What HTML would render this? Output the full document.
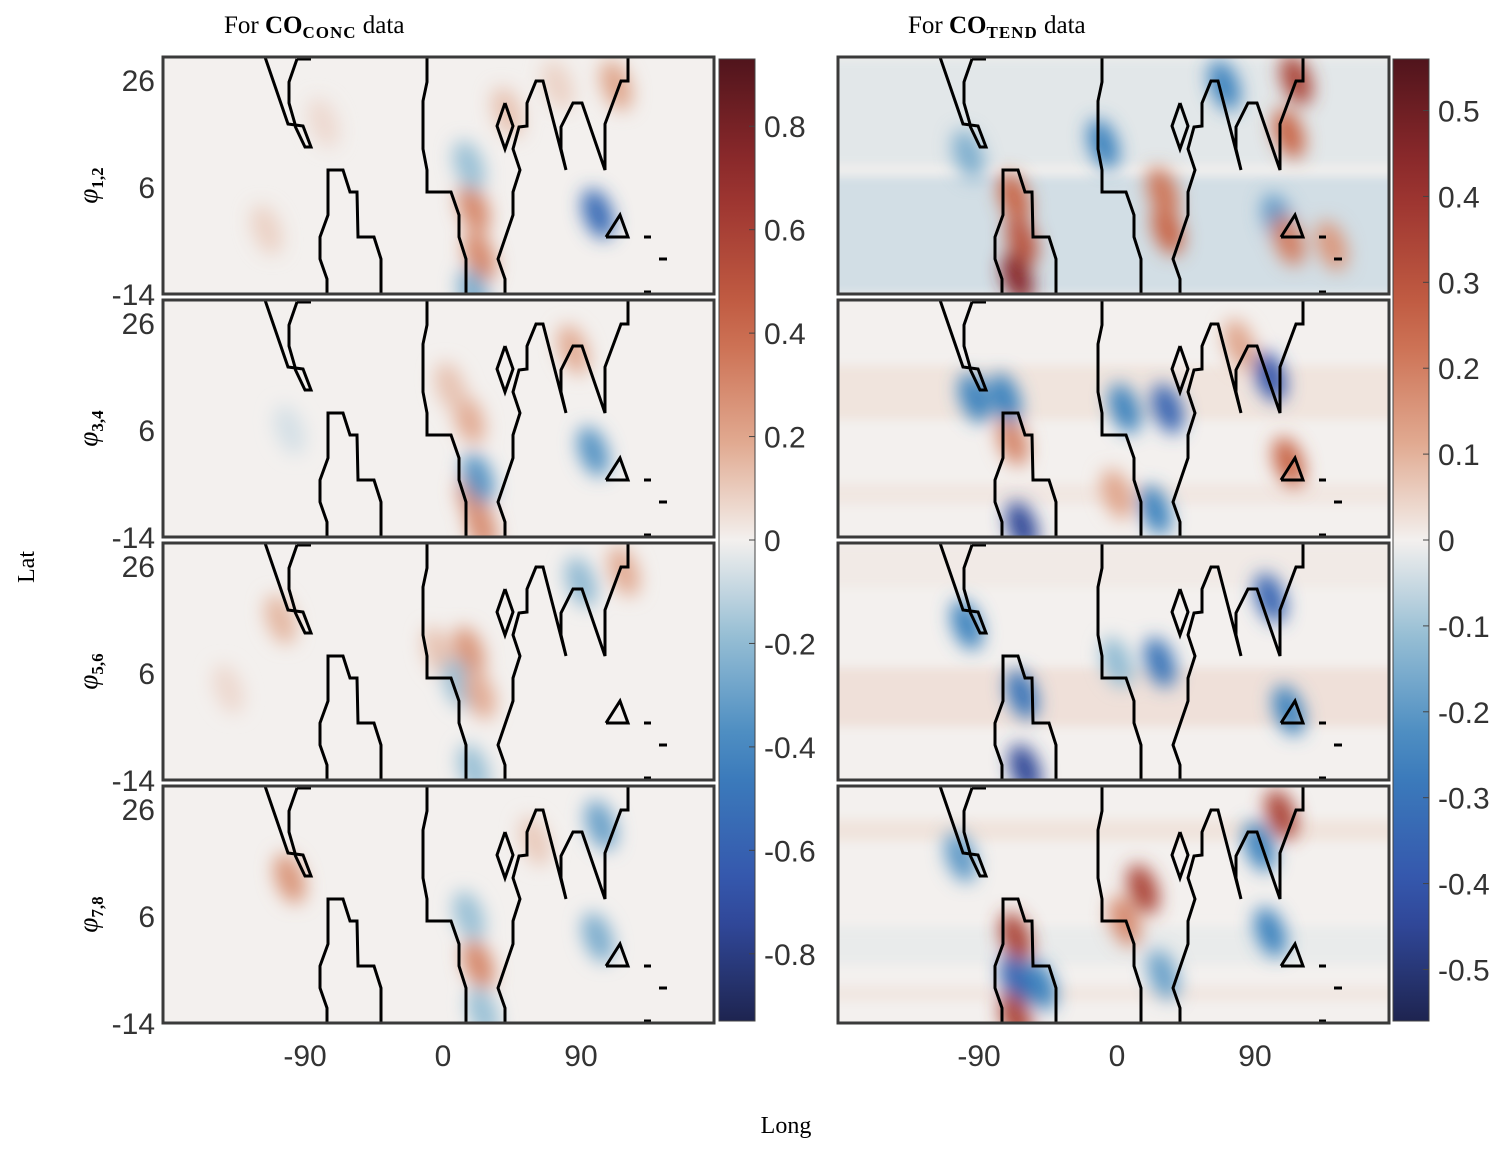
<!DOCTYPE html>
<html><head><meta charset="utf-8">
<style>
html,body{margin:0;padding:0;background:#fff;}
svg{display:block;}
.tk{font-family:"Liberation Sans",sans-serif;font-size:30px;fill:#333;}
.ser{font-family:"Liberation Serif",serif;fill:#000;}
</style></head>
<body>
<svg id="fig" width="1510" height="1154" viewBox="0 0 1510 1154" xmlns="http://www.w3.org/2000/svg">
<defs>
<filter id="blur" x="-60%" y="-60%" width="220%" height="220%"><feGaussianBlur stdDeviation="9"/></filter>
<filter id="blurBand" x="-5%" y="-50%" width="110%" height="200%"><feGaussianBlur stdDeviation="5"/></filter>
<linearGradient id="gradL" x1="0" y1="1" x2="0" y2="0"></linearGradient>
<linearGradient id="gradR" x1="0" y1="1" x2="0" y2="0"></linearGradient>
</defs>
<text class="ser" x="224" y="33" font-size="25">For <tspan font-weight="bold">CO</tspan><tspan font-weight="bold" font-size="17" dy="5" letter-spacing="1">CONC</tspan><tspan dy="-5"> data</tspan></text>
<text class="ser" x="908" y="33" font-size="25">For <tspan font-weight="bold">CO</tspan><tspan font-weight="bold" font-size="17" dy="5" letter-spacing="1">TEND</tspan><tspan dy="-5"> data</tspan></text>
<text class="ser" x="0" y="0" font-size="24" transform="translate(34,567) rotate(-90)" text-anchor="middle">Lat</text>
<text class="ser" x="786" y="1133" font-size="24" text-anchor="middle">Long</text>
<g id="panels"></g>
</svg>
<script>
// ---- data ----
const panelLabels = ["1,2","3,4","5,6","7,8"];
const latTicks = [26, 6, -14];
const lonTicks = [-90, 0, 90];
const cbTicksL = [0.8, 0.6, 0.4, 0.2, 0, -0.2, -0.4, -0.6, -0.8];
const cbTicksR = [0.5, 0.4, 0.3, 0.2, 0.1, 0, -0.1, -0.2, -0.3, -0.4, -0.5];
const cbMaxL = 0.93;
const cbMaxR = 0.56;
// blobs: [lon, lat, value]
const blobsL1 = [[20,2,0.3],[24,-7,0.3],[17,10,-0.18],[101,1,-0.55],[113,25,0.2],[20,-14,-0.25],[-115,-2,0.08],[-78,18,0.06],[42,20,0.12],[75,25,0.08]];
const blobsL2 = [[17,8,0.18],[20,-7,0.28],[23,-3,-0.35],[98,2,-0.35],[85,21,0.18],[25,-12,0.28],[5,14,0.12],[-100,6,-0.06]];
const blobsL3 = [[17,10,0.25],[-3,10,0.12],[10,4,-0.18],[118,25,0.18],[90,23,-0.2],[-106,16,0.15],[20,-12,-0.18],[-140,3,0.06],[24,2,0.18]];
const blobsL4 = [[23,-3,0.3],[17,6,-0.18],[103,23,-0.3],[-100,13,0.25],[101,2,-0.25],[60,20,0.1],[26,-12,-0.18]];
const blobsR1 = [[-67,4,0.25],[-62,-4,0.3],[-65,-11,0.45],[33,-2,0.25],[30,5,0.22],[117,26,0.35],[112,16,0.25],[-97,12,-0.15],[70,25,-0.25],[-9,14,-0.25],[105,0,-0.2],[112,-4,0.2],[140,-5,0.15]];
const blobsR2 = [[33,10,-0.35],[-62,-12,-0.45],[-68,4,0.18],[100,16,-0.4],[112,0,0.25],[-93,12,-0.25],[-73,12,-0.25],[5,10,-0.25],[0,-6,0.12],[25,-9,-0.25],[80,22,0.12]];
const blobsR3 = [[-62,2,-0.3],[-60,-12,-0.45],[28,8,-0.3],[100,20,-0.35],[112,-1,-0.25],[-98,15,-0.25],[0,8,-0.12]];
const blobsR4 = [[17,11,0.35],[-66,2,0.35],[-66,-6,-0.35],[-66,-13,0.35],[107,25,0.35],[93,19,-0.25],[-102,17,-0.2],[-50,-7,-0.25],[30,-5,-0.18],[100,3,-0.25],[5,5,0.18]];
// bands: [latTop, latBottom, value]
const bandsR1 = [[30,10,-0.02],[8,-14,-0.04]];
const bandsR2 = [[18,8,0.02],[-4,-8,0.015]];
const bandsR3 = [[7,-4,0.025],[30,22,0.01]];
const bandsR4 = [[24,20,0.02],[4,-3,-0.012],[-7,-10,0.015]];

// ---- geometry ----
const panelTops = [57, 300, 543, 786];
const panelH = 237, panelW = 551;
const colLeft = [163, 838];
const lon0X = [443, 1117];
const pxDeg = 1.533;
const latTop = 30.3, latBot = -14;
const cbX = [719, 1393], cbW = 36, cbTop = 59, cbBot = 1021;
function xLon(col, lon){ return lon0X[col] + lon*pxDeg; }
function yLat(row, lat){ return panelTops[row] + (latTop-lat)/(latTop-latBot)*panelH; }

const stops = [[-1,[30,36,80]],[-0.75,[52,80,170]],[-0.45,[60,130,190]],[-0.2,[150,190,212]],[0,[243,240,238]],[0.2,[225,170,145]],[0.45,[200,100,70]],[0.75,[150,45,45]],[1,[80,20,28]]];
function cmap(t){
  t=Math.max(-1,Math.min(1,t));
  for(let i=0;i<stops.length-1;i++){
    const a=stops[i],b=stops[i+1];
    if(t<=b[0]){const f=(t-a[0])/(b[0]-a[0]);
      const c=a[1].map((v,k)=>Math.round(v+(b[1][k]-v)*f));
      return `rgb(${c[0]},${c[1]},${c[2]})`;}
  }
  return 'rgb(80,20,28)';
}
const NS="http://www.w3.org/2000/svg";
function mk(tag, attrs, parent){const e=document.createElementNS(NS,tag);for(const k in attrs)e.setAttribute(k,attrs[k]);parent.appendChild(e);return e;}

const coastLines = [
 "102,0 125,67 140,69 148,90 142,90 132,69",
 "134,2 126,25 126,46 132,67",
 "134,2 148,2",
 "164,237 164,222 157,202 157,180 165,158 165,113 180,113 187,135 194,135 195,180 211,180 218,202 218,237",
 "264,0 264,25 260,44 260,92 264,113 264,135 288,135 296,158 296,180 303,202 303,237",
 "342,237 342,222 335,202 350,158 350,135 357,113 350,92 356,70 364,69 364,46 373,24 380,24 403,113 398,92 398,70 410,46 419,46 442,113 442,67 458,24 465,24 465,0",
 "342,46 350,69 342,92 334,69 342,46",
 "443,180 457,158 465,180 443,180",
 "481,180 488,180","496,202 504,202","481,235 488,235"
];

const G=document.getElementById('panels');
const allBlobs=[[blobsL1,blobsL2,blobsL3,blobsL4],[blobsR1,blobsR2,blobsR3,blobsR4]];
const allBands=[[[],[],[],[]],[bandsR1,bandsR2,bandsR3,bandsR4]];
const cmax=[cbMaxL,cbMaxR];
for(let col=0;col<2;col++){
  for(let row=0;row<4;row++){
    const x0=colLeft[col], y0=panelTops[row];
    const g=mk('g',{},G);
    
    
    const cid=`clip${col}${row}`;
    const cp=mk('clipPath',{id:cid},g);
    mk('rect',{x:x0,y:y0,width:panelW,height:panelH},cp);
    const inner=mk('g',{'clip-path':`url(#${cid})`},g);
    mk('rect',{x:x0,y:y0,width:panelW,height:panelH,fill:cmap(0)},inner);
    const bg=mk('g',{filter:'url(#blurBand)'},inner);
    allBands[col][row].forEach(b=>{
      const r=mk('rect',{x:x0-20,y:yLat(row,b[0]),width:panelW+40,height:yLat(row,b[1])-yLat(row,b[0]),fill:cmap(b[2]/cmax[col])},bg);
      
      
    });
    const blg=mk('g',{filter:'url(#blur)'},inner);
    allBlobs[col][row].forEach(b=>{
      const e=mk('ellipse',{cx:xLon(col,b[0]),cy:yLat(row,b[1]),rx:14,ry:26,fill:cmap(b[2]/cmax[col]),transform:`rotate(-20 ${xLon(col,b[0])} ${yLat(row,b[1])})`},blg);
      
      
    });
    const cg=mk('g',{transform:`translate(${x0},${y0})`,fill:'none',stroke:'#000','stroke-width':3,'stroke-linejoin':'miter'},inner);
    
    
    coastLines.forEach(p=>mk('polyline',{points:p},cg));
    const fr=mk('rect',{x:x0,y:y0,width:panelW,height:panelH,fill:'none',stroke:'#3a3a3a','stroke-width':3},g);
    
    
    if(col===0){
      latTicks.forEach(t=>{
        const tx=mk('text',{x:155,y:yLat(row,t)+11,'text-anchor':'end',class:'tk'},G);
        tx.textContent=String(t);
        
        
      });
      const lab=mk('text',{class:'ser','font-size':27,'font-style':'italic',transform:`translate(97,${y0+panelH/2+10}) rotate(-90)`,'text-anchor':'middle'},G);
      lab.innerHTML=`φ<tspan font-size="17" font-style="normal" font-weight="bold" dy="6">${panelLabels[row]}</tspan>`;
      
      
    }
  }
  lonTicks.forEach(t=>{
    const tx=mk('text',{x:xLon(col,t),y:1066,'text-anchor':'middle',class:'tk'},G);
    tx.textContent=String(t);
    
    
  });
  const gr=document.getElementById(col?'gradR':'gradL');
  for(let i=0;i<=20;i++){const t=i/20;mk('stop',{offset:t,'stop-color':cmap(-1+2*t)},gr);}
  const cb=mk('rect',{x:cbX[col],y:cbTop,width:cbW,height:cbBot-cbTop,fill:`url(#${col?'gradR':'gradL'})`,stroke:'#444','stroke-width':1},G);
  
  
  const ticks=col?cbTicksR:cbTicksL;
  ticks.forEach(v=>{
    const y=(cbTop+cbBot)/2 - v/cmax[col]*(cbBot-cbTop)/2;
    mk('line',{x1:cbX[col]+cbW-6,x2:cbX[col]+cbW,y1:y,y2:y,stroke:'#444','stroke-width':1},G);
    const tx=mk('text',{x:cbX[col]+cbW+9,y:y+11,class:'tk'},G);
    tx.textContent=String(v);
    
    
  });
}
</script>
</body></html>
